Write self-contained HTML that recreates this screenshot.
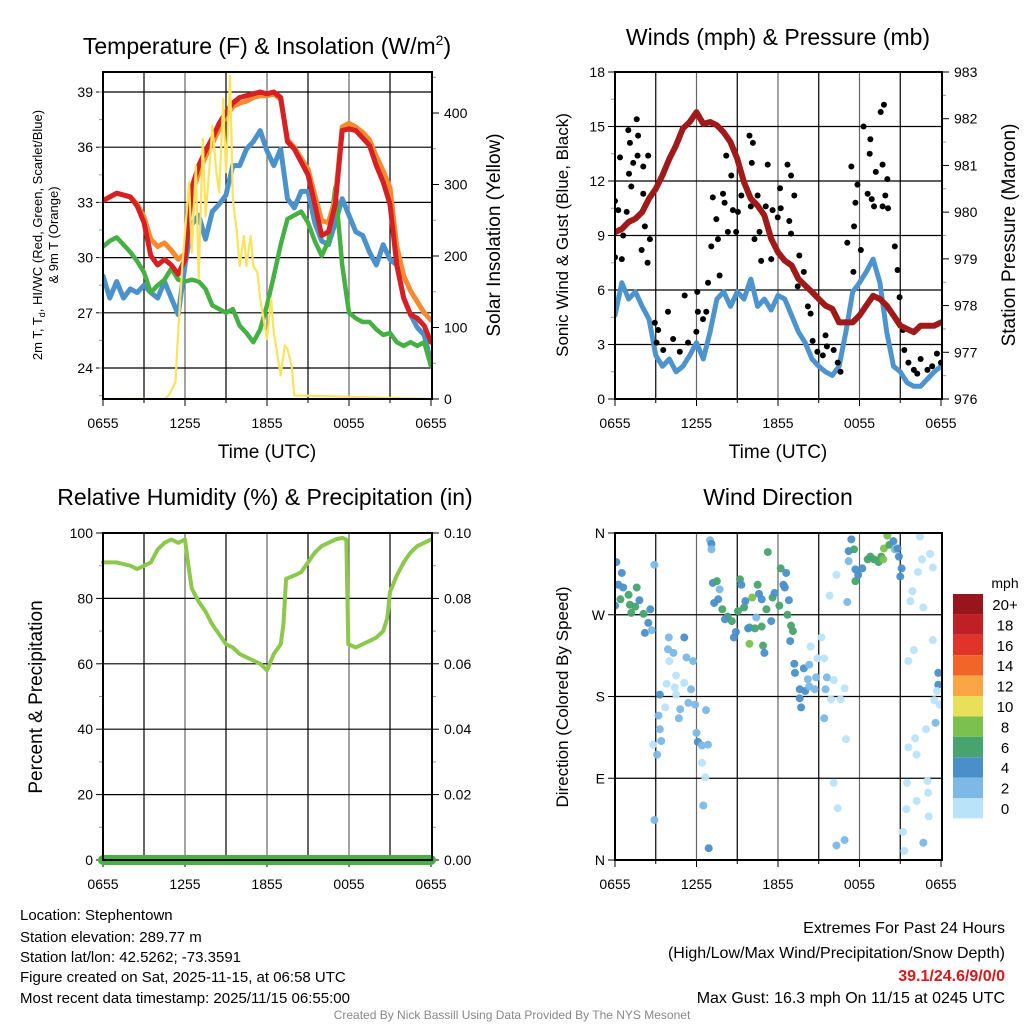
<!DOCTYPE html>
<html><head><meta charset="utf-8">
<style>
html,body{margin:0;padding:0;background:#fff;}
svg{display:block;font-family:"Liberation Sans",Arial,sans-serif;}
</style></head>
<body>
<svg id="chart" width="1024" height="1024" viewBox="0 0 1024 1024" xmlns="http://www.w3.org/2000/svg">
<rect width="1024" height="1024" fill="#fff"/>
<!-- titles -->
<text x="267" y="54" font-size="23" text-anchor="middle">Temperature (F) &amp; Insolation (W/m<tspan font-size="14" dy="-9">2</tspan><tspan dy="9">)</tspan></text>
<text x="778" y="45" font-size="23" text-anchor="middle">Winds (mph) &amp; Pressure (mb)</text>
<text x="265" y="505" font-size="23" text-anchor="middle">Relative Humidity (%) &amp; Precipitation (in)</text>
<text x="778" y="505" font-size="23" text-anchor="middle">Wind Direction</text>
<!-- axis titles -->
<text x="267" y="458" font-size="19" text-anchor="middle">Time (UTC)</text>
<text x="778" y="458" font-size="19" text-anchor="middle">Time (UTC)</text>
<text transform="translate(42,235) rotate(-90)" font-size="13" text-anchor="middle">2m T, T<tspan font-size="9" dy="3">d</tspan><tspan dy="-3">, HI/WC (Red, Green, Scarlet/Blue)</tspan></text>
<text transform="translate(58,235) rotate(-90)" font-size="13" text-anchor="middle">&amp; 9m T (Orange)</text>
<text transform="translate(500,235) rotate(-90)" font-size="19" text-anchor="middle">Solar Insolation (Yellow)</text>
<text transform="translate(568,235) rotate(-90)" font-size="17" text-anchor="middle">Sonic Wind &amp; Gust (Blue, Black)</text>
<text transform="translate(1015,235) rotate(-90)" font-size="19" text-anchor="middle">Station Pressure (Maroon)</text>
<text transform="translate(42,697) rotate(-90)" font-size="19" text-anchor="middle">Percent &amp; Precipitation</text>
<text transform="translate(568,697) rotate(-90)" font-size="17" text-anchor="middle">Direction (Colored By Speed)</text>
<!-- footer -->
<g font-size="15">
<text x="20" y="920">Location: Stephentown</text>
<text x="20" y="942">Station elevation: 289.77 m</text>
<text x="20" y="962">Station lat/lon: 42.5262; -73.3591</text>
<text x="20" y="982">Figure created on Sat, 2025-11-15, at 06:58 UTC</text>
<text x="20" y="1003">Most recent data timestamp: 2025/11/15 06:55:00</text>
</g>
<g font-size="16" text-anchor="end">
<text x="1005" y="933">Extremes For Past 24 Hours</text>
<text x="1005" y="958">(High/Low/Max Wind/Precipitation/Snow Depth)</text>
<text x="1005" y="981" fill="#d7191c" font-weight="bold">39.1/24.6/9/0/0</text>
<text x="1005" y="1003">Max Gust: 16.3 mph On 11/15 at 0245 UTC</text>
</g>
<text x="512" y="1019" font-size="12" fill="#888" text-anchor="middle">Created By Nick Bassill Using Data Provided By The NYS Mesonet</text>
</svg>
<script>
const hours=[0,0.5,1,1.5,2,2.5,3,3.5,4,4.5,5,5.5,6,6.5,7,7.5,8,8.5,9,9.5,10,10.5,11,11.5,12,12.5,13,13.5,14,14.5,15,15.5,16,16.5,17,17.5,18,18.5,19,19.5,20,20.5,21,21.5,22,22.5,23,23.5,24];
const timeTickLabels=["0655","1255","1855","0055","0655"];
const tempTicks=[24,27,30,33,36,39];
const solarTicks=[0,100,200,300,400];
const red2m=[33.1,33.3,33.5,33.4,33.3,32.8,31.9,30.1,29.6,29.9,29.6,29.1,29.9,33.8,35.0,35.8,36.5,37.3,37.9,38.4,38.7,38.8,38.9,39.0,38.9,39.0,38.7,36.3,35.9,35.2,34.5,32.9,31.2,31.4,32.9,36.9,37.0,36.9,36.5,36.1,35.0,34.1,32.9,29.6,27.8,26.9,26.7,26.3,25.4];
const orange9m=[33.1,33.3,33.5,33.4,33.3,32.9,32.2,31.0,30.6,30.8,30.4,29.9,30.2,33.4,34.6,35.5,36.2,37.0,37.7,38.2,38.4,38.5,38.7,38.8,38.8,38.9,38.6,36.4,36.0,35.4,34.8,33.4,32.0,31.9,33.2,37.1,37.3,37.1,36.8,36.4,35.5,34.7,33.8,30.6,29.0,28.2,27.6,27.0,26.6];
const greenTd=[30.6,30.9,31.1,30.7,30.3,29.8,29.2,28.1,28.5,28.8,29.4,28.8,28.7,28.8,28.7,28.3,27.4,27.2,27.0,27.2,26.3,25.9,25.4,26.1,27.4,29.0,30.7,32.1,32.3,32.5,31.9,30.9,30.1,30.9,33.8,29.6,27.0,26.7,26.5,26.5,26.1,25.8,25.9,25.4,25.2,25.4,25.2,25.4,24.1];
const blueWC=[29.0,27.8,28.7,27.8,28.3,28.1,28.5,28.1,27.8,28.7,27.8,26.9,29.6,31.8,32.3,31.0,32.5,32.9,33.4,35.0,35.0,35.9,36.3,36.9,35.8,35.0,35.9,33.2,32.7,33.6,33.6,31.9,30.9,30.7,31.9,33.2,32.3,31.4,31.2,30.3,29.6,30.7,29.9,29.6,27.8,26.9,26.2,25.8,24.3];
const solarHours=[0,4.5,4.8,5.3,5.5,5.8,6,6.3,6.5,6.8,7,7.3,7.5,7.8,8,8.3,8.5,8.8,9,9.3,9.5,9.8,10,10.3,10.5,10.8,11,11.3,11.5,12,12.3,12.5,13,13.3,13.5,13.8,14,24];
const solarVals=[0,0,5,23,93,186,233,303,205,326,168,364,256,326,382,317,289,420,317,452,280,233,186,228,186,228,186,177,140,84,140,93,33,75,70,47,5,0];
const windTicks=[0,3,6,9,12,15,18];
const pressureTicks=[976,977,978,979,980,981,982,983];
const pressure=[979.57,979.64,979.79,979.86,980.0,980.29,980.5,980.79,981.14,981.43,981.79,981.93,982.14,981.89,981.93,981.86,981.71,981.5,981.14,980.64,980.29,980.14,979.93,979.43,979.14,978.96,978.86,978.57,978.43,978.29,978.14,978.0,977.93,977.64,977.64,977.64,977.79,978.0,978.21,978.14,978.0,977.79,977.57,977.5,977.43,977.57,977.57,977.57,977.64];
const sonicWind=[4.6,6.4,5.5,5.9,5.1,4.4,2.4,1.8,2.2,1.5,1.8,2.4,3.1,2.2,3.7,5.5,5.9,5.1,5.9,5.5,6.6,5.1,5.5,4.9,5.7,5.5,4.6,3.7,3.1,2.2,1.8,1.5,1.3,1.8,3.7,5.9,6.4,7.0,7.7,6.4,3.7,1.8,1.5,0.9,0.7,0.7,1.1,1.5,1.8];
const gustHours=[0,0.24,0,0.5,0.37,0.98,1.1,1.6,1.7,1.66,1.34,1.03,1.2,2.08,2.44,2.08,2.2,2.57,1.96,2.4,0.86,0.6,2.93,3.18,3.9,3.06,3.55,4.28,4.77,5.13,5.38,5.99,6.06,6.1,6.48,6.72,6.85,7.2,7.46,7.09,7.58,7.7,8.19,8.56,7.95,8.07,8.68,9.05,8.31,8.92,9.3,9.9,10.15,10.07,10.0,10.5,10.27,10.64,10.76,11.24,11.1,11.6,11.5,11.98,12.15,12.2,12.7,12.96,13.2,12.83,12.96,13.57,13.45,13.9,14.2,14.4,14.55,14.9,15.3,15.5,15.6,16.1,16.4,16.6,17.1,17.4,17.55,17.7,17.85,17.6,18.1,18.3,18.8,18.75,18.6,18.9,19.07,19.2,19.7,19.56,19.8,20.05,19.9,19.7,20.1,20.6,20.8,20.95,21.2,21.3,21.6,22.0,22.5,23.0,23.35,23.7,24,22.25];
const gustVals=[10.9,10.4,7.8,7.7,13.3,14.8,14.1,15.4,14.5,13.4,13.0,12.4,11.7,12.8,13.4,11.3,9.5,8.8,8.2,7.5,10.3,9.0,4.2,3.8,4.8,3.1,2.7,3.3,2.6,5.7,3.1,3.7,5.9,4.8,4.4,4.8,6.4,11.1,9.9,8.4,8.8,6.8,13.4,12.3,11.3,10.8,10.4,10.3,9.2,9.2,11.2,14.5,14.1,13.0,10.6,11.2,8.8,9.2,7.6,12.9,10.6,10.4,7.7,10.0,11.6,10.5,12.9,12.3,11.2,9.8,9.1,7.9,6.2,7.0,5.1,4.7,3.2,2.6,2.4,3.5,2.9,2.7,2.0,1.5,8.6,12.8,7.0,10.8,11.8,9.5,8.2,15.0,14.3,13.5,11.3,11.0,10.6,12.5,12.9,15.8,16.2,12.1,11.2,10.6,10.5,8.4,7.1,5.6,3.8,2.7,2.0,1.6,2.2,1.6,1.8,2.5,2.0,1.4];
const humidityTicks=[0,20,40,60,80,100];
const precipTickLabels=["0.00","0.02","0.04","0.06","0.08","0.10"];
const rhHours=[0,1,2,2.5,3,3.5,4,4.5,5,5.5,6,6.25,6.5,7,7.5,8,8.5,9,9.5,10,10.5,11,11.5,12,12.5,13,13.2,13.4,14,14.5,15,15.5,16,16.5,17,17.5,17.8,17.95,18.5,19,19.5,20,20.5,20.8,21,21.5,22,22.5,23,23.5,24];
const rhVals=[91,91,90,89,90,91,95,97,98,97,98,90,83,79,76,72,69,66,65,63,62,61,60,58,63,66,72,86,87,88,91,94,96,97,98,98.5,98,66,65,66,67,68,70,74,82,87,91,94,96,97,98];
const precipHours=[0,24];
const precipVals=[0,0];
const dirLabels=["N","E","S","W","N"];
const dirHours=[0.1,0.5,0.25,0.6,0,0.4,1,1.6,1.1,1.5,1.2,1.8,2.1,2.6,2.45,2.2,2.7,2.9,3.96,5.1,3.9,4.3,4.0,5.26,5.75,4.5,5.1,3.8,4.4,5.6,3.3,4.5,5.4,4.8,5.9,6.7,3.7,3.2,4.7,3.3,3.4,3.1,2.8,6,6.1,6.4,6.85,6.4,6.65,6.5,2.9,6.9,7.0,7.1,7.1,7.2,7.5,7.7,7.3,7.6,7.9,8.3,8.6,8.1,8.9,8.75,9.2,9.3,9.05,9.5,9.6,10.1,10.5,10.6,10.8,10.4,9.9,10.3,10.8,9.8,9.9,10.9,11.0,11.25,11.15,11.5,11.6,11.75,12.1,12.2,12.6,12.4,12.5,12.8,12.7,12.96,13.1,12.9,13.2,13.25,13.9,14.3,14.4,15.2,14.9,15.4,14.2,14.8,15.6,16.1,13.6,14.0,14.3,14.7,15.5,13.6,13.7,15.9,16.6,16.9,15.4,17.0,16.1,16.4,16.3,16.9,15.8,16.3,17.1,17.2,17.2,17.4,17.6,17.7,17.7,17.9,18.2,18.6,18.8,19.07,19.4,19.6,19.8,19.75,20.05,20.2,20.5,20.6,20.8,20.9,21.1,21.0,22.45,22.6,23.2,23.4,22.3,21.9,21.75,22.7,23.4,22.0,21.6,23.8,23.8,23.7,23.5,23.9,23.6,22.9,22.1,21.6,22.2,21.5,23.0,23.05,22.2,21.45,23.1,21.2,21.3,22.7];
const dirDeg=[328,316,303,300,280,287,292,300,281,279,272,286,271,276,261,250,253,325,245,245,232,228,219,223,219,203,195,194,190,188,182,182,173,166,171,165,168,159,156,144,131,116,127,140,130,126,127,107,91,60,44,13,352,348,342,305,307,298,283,287,276,268,263,265,251,245,309,303,274,278,285,289,303,293,287,267,256,255,257,255,238,236,228,339,276,263,289,294,280,321,316,303,300,286,270,258,252,241,216,206,211,215,235,245,222,222,199,201,201,198,188,186,191,188,188,178,168,177,177,189,156,133,85,57,16,22,291,314,284,329,340,353,342,320,307,314,321,331,334,331,328,334,343,331,357,347,351,342,343,334,321,312,356,331,337,322,317,296,285,278,242,231,219,206,193,186,176,171,151,144,134,124,116,85,87,74,65,56,48,31,10,19];
const dirSpeed=[5,5,5,4,5,7,7,7,7,7,7,5,7,5,5,5,3,3,3,5,3,3,1,3,3,1,1,1,1,3,5,1,3,3,3,3,1,3,3,3,3,3,1,3,5,3,3,1,1,3,3,5,3,5,3,5,7,3,5,5,7,7,7,5,5,5,7,5,7,7,5,9,7,5,5,3,7,7,7,5,9,7,5,7,7,5,7,5,7,7,5,5,5,5,7,7,7,5,5,5,5,3,1,1,1,1,3,3,3,1,5,5,3,3,3,5,5,1,1,1,3,1,1,1,3,3,1,1,3,3,5,5,7,5,7,5,5,7,7,7,7,7,9,9,9,7,5,3,5,5,5,5,1,1,1,1,1,1,1,1,1,1,1,5,5,1,1,1,3,1,1,1,1,1,1,1,1,1,1,1,1,3,1];
const speedLevels=["0","2","4","6","8","10","12","14","16","18","20+"];
const speedColors=["#b9e3f8","#7cb9e6","#4a8fca","#47a46e","#7cc14d","#e8e05a","#f9a745","#f26529","#e0332a","#c11f26","#99151c"];

const NS="http://www.w3.org/2000/svg";
const svg=document.getElementById('chart');
function mk(tag,attrs,parent){const e=document.createElementNS(NS,tag);for(const k in attrs)e.setAttribute(k,attrs[k]);(parent||svg).appendChild(e);return e;}
function linScale(d0,d1,r0,r1){return v=>r0+(v-d0)/(d1-d0)*(r1-r0);}

function panelFrame(name,x0,y0,x1,y1,yScale,yTicks,yLabels,yMinor,xScale){
  const g=mk('g',{});
  
  
  // vertical grid every 3h
  for(let h=3;h<24;h+=3){
    const l=mk('line',{x1:xScale(h),x2:xScale(h),y1:y0,y2:y1,stroke:(h%6===0?'#666':'#000'),'stroke-width':1.2},g);
    
    
  }
  yTicks.forEach((t,i)=>{
    const y=yScale(t);
    if(y>y0+1&&y<y1-1){const l=mk('line',{x1:x0,x2:x1,y1:y,y2:y,stroke:'#000','stroke-width':1.2},g);
      
      }
    mk('line',{x1:x0-7,x2:x0,y1:y,y2:y,stroke:'#000','stroke-width':1},g);
    const tx=mk('text',{x:x0-10,y:y+5,'font-size':14,'text-anchor':'end'},g);
    tx.textContent=yLabels[i];
    
    
  });
  if(yMinor) yMinor.forEach(t=>{const y=yScale(t);if(y>y0&&y<y1)mk('line',{x1:x0-4,x2:x0,y1:y,y2:y,stroke:'#999','stroke-width':1},g);});
  for(let i=0;i<=8;i++){const x=xScale(i*3);mk('line',{x1:x,x2:x,y1:y1,y2:y1+(i%2===0?7:4),stroke:'#000'},g);}
  timeTickLabels.forEach((lab,i)=>{
    const tx=mk('text',{x:xScale(i*6),y:y1+29,'font-size':14,'text-anchor':'middle'},g);
    tx.textContent=lab;
    
    
  });
  return g;
}
function frameBox(x0,y0,x1,y1){const r=mk('rect',{x:x0,y:y0,width:x1-x0,height:y1-y0,fill:'none',stroke:'#000','stroke-width':2});}
function rightAxis(x1,yScale,ticks,labels,y0,y1,minor){
  const g=mk('g',{});
  
  
  ticks.forEach((t,i)=>{const y=yScale(t);mk('line',{x1:x1,x2:x1+7,y1:y,y2:y,stroke:'#000'},g);
    const tx=mk('text',{x:x1+12,y:y+5,'font-size':14},g);tx.textContent=labels[i];
    
    });
  if(minor)minor.forEach(t=>{const y=yScale(t);if(y>y0&&y<y1)mk('line',{x1:x1,x2:x1+4,y1:y,y2:y,stroke:'#999'},g);});
}
function pathFrom(xs,ys,xS,yS){return xs.map((h,i)=>(i?'L':'M')+xS(h).toFixed(1)+','+yS(ys[i]).toFixed(1)).join(' ');}
function line(name,xs,ys,xS,yS,color,w){const p=mk('path',{d:pathFrom(xs,ys,xS,yS),fill:'none',stroke:color,'stroke-width':w,'stroke-linejoin':'round','stroke-linecap':'round'});return p;}

// ---------- Panel 1: temperature ----------
{
const x0=103,x1=432,y0=72,y1=399;
const xS=linScale(0,24,x0,x1-1);
const yS=linScale(24,39,368,92);
const sS=linScale(0,400,399,113);
const minor=[];for(let t=22.5;t<40.5;t+=1.5)minor.push(t);
panelFrame('temperature',x0,y0,x1,y1,yS,tempTicks,tempTicks.map(String),minor,xS);
rightAxis(x1,sS,solarTicks,solarTicks.map(String),y0,y1,[50,150,250,350,450]);
const cp=mk('clipPath',{id:'c1'});mk('rect',{x:x0,y:y0,width:x1-x0,height:y1-y0},cp);
line('wind-chill-line',hours,blueWC,xS,yS,'#4b92cc',5).setAttribute('clip-path','url(#c1)');
line('dewpoint-line',hours,greenTd,xS,yS,'#45b043',4.5).setAttribute('clip-path','url(#c1)');
line('temp-9m-line',hours,orange9m,xS,yS,'#f58a30',5).setAttribute('clip-path','url(#c1)');
line('temp-2m-line',hours,red2m,xS,yS,'#d62024',5).setAttribute('clip-path','url(#c1)');
line('solar-insolation-line',solarHours,solarVals,xS,sS,'#fde25c',2.2).setAttribute('clip-path','url(#c1)');
frameBox(x0,y0,x1,y1);
}
// ---------- Panel 2: winds ----------
{
const x0=615,x1=942,y0=72,y1=399;
const xS=linScale(0,24,x0,x1-1);
const yS=linScale(0,18,399,72);
const pS=linScale(976,983,399,72);
const minor=[1.5,4.5,7.5,10.5,13.5,16.5];
panelFrame('winds',x0,y0,x1,y1,yS,windTicks,windTicks.map(String),minor,xS);
rightAxis(x1,pS,pressureTicks,pressureTicks.map(String),y0,y1,[976.5,977.5,978.5,979.5,980.5,981.5,982.5]);
const cp=mk('clipPath',{id:'c2'});mk('rect',{x:x0,y:y0,width:x1-x0,height:y1-y0},cp);
line('sonic-wind-line',hours,sonicWind,xS,yS,'#4d94cf',5).setAttribute('clip-path','url(#c2)');
const gg=mk('g',{'clip-path':'url(#c2)'});


gustHours.forEach((h,i)=>{const c=mk('circle',{cx:xS(h),cy:yS(gustVals[i]),r:3,fill:'#000'},gg);
  
  });
line('pressure-line',hours,pressure,xS,pS,'#a01a1a',6).setAttribute('clip-path','url(#c2)');
frameBox(x0,y0,x1,y1);
}
// ---------- Panel 3: humidity ----------
{
const x0=103,x1=432,y0=533,y1=860;
const xS=linScale(0,24,x0,x1-1);
const yS=linScale(0,100,860,533);
panelFrame('humidity',x0,y0,x1,y1,yS,humidityTicks,humidityTicks.map(String),[10,30,50,70,90],xS);
rightAxis(x1,yS,humidityTicks,precipTickLabels,y0,y1,[10,30,50,70,90]);
line('relative-humidity-line',rhHours,rhVals,xS,yS,'#8cc84b',4);
const pp=line('precipitation-line',precipHours,precipVals,xS,v=>yS(v*1000),'#45b043',10);
frameBox(x0,y0,x1,y1);
mk('line',{x1:x0,x2:x1,y1:y1,y2:y1,stroke:'#000','stroke-width':2});
}
// ---------- Panel 4: wind direction ----------
{
const x0=615,x1=942,y0=533,y1=860;
const xS=linScale(0,24,x0,x1-1);
const yS=linScale(0,360,860,533);
panelFrame('wind-direction',x0,y0,x1,y1,yS,[0,90,180,270,360],dirLabels,null,xS);
const cp=mk('clipPath',{id:'c4'});mk('rect',{x:x0,y:y0,width:x1-x0,height:y1-y0},cp);
const gg=mk('g',{'clip-path':'url(#c4)'});


dirHours.forEach((h,i)=>{
  const idx=Math.min(10,Math.floor(dirSpeed[i]/2));
  const c=mk('circle',{cx:xS(h),cy:yS(dirDeg[i]),r:4,fill:speedColors[idx],'fill-opacity':0.95},gg);
  
  
});
frameBox(x0,y0,x1,y1);
// colorbar
const cb=mk('g',{});


const mph=mk('text',{x:1005,y:588,'font-size':14,'text-anchor':'middle'},cb);mph.textContent='mph';
speedLevels.forEach((lab,i)=>{
  const k=10-i;const yy=594+i*20.4;
  const r=mk('rect',{x:953,y:yy,width:30,height:20.4,fill:speedColors[k]},cb);
  
  
  const t=mk('text',{x:1005,y:yy+16,'font-size':15,'text-anchor':'middle'},cb);t.textContent=speedLevels[k];
  
  
});
}
</script>
</body></html>
